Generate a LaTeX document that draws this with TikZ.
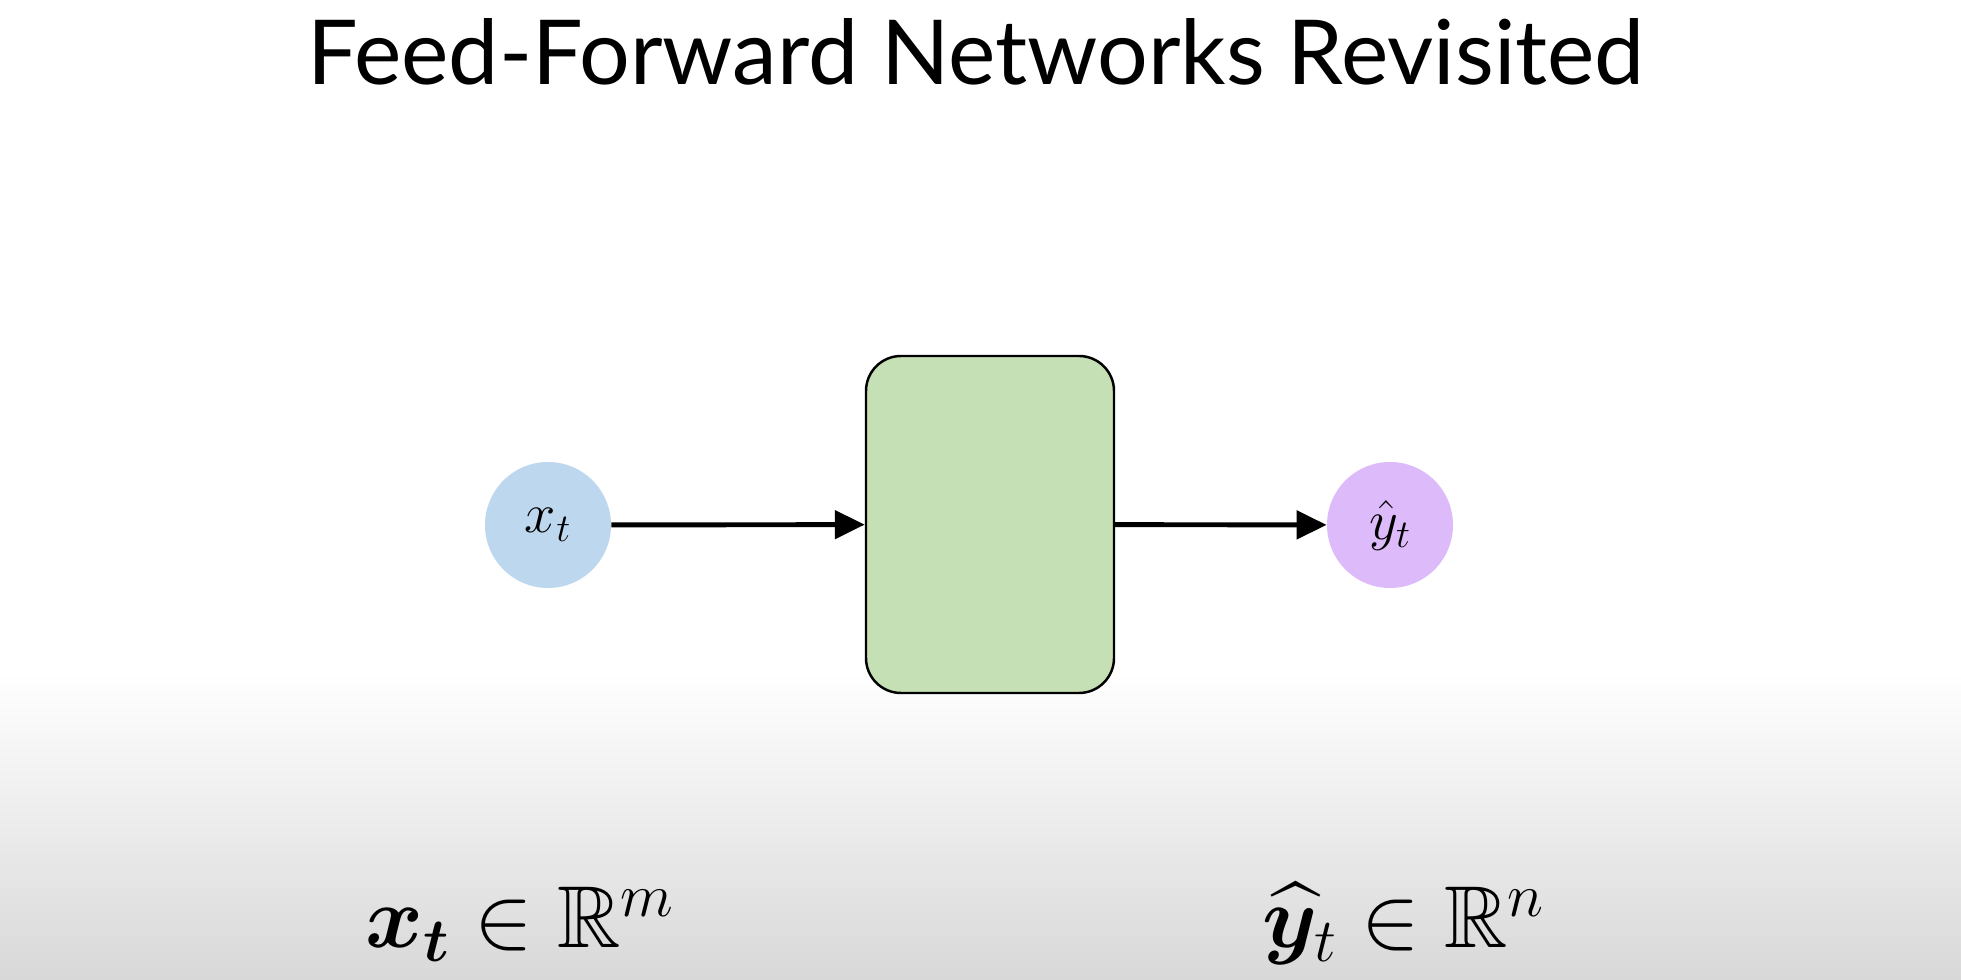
\documentclass[tikz,border=0pt]{standalone}
\usepackage{fix-cm}
\usepackage{amsmath, amssymb, bm}
\usepackage{fontspec}
\setsansfont{Lato}
\definecolor{InBlue}{RGB}{189,215,238}
\definecolor{NetGreen}{RGB}{197,224,180}
\definecolor{OutPurple}{RGB}{221,186,250}
\definecolor{BgGray}{RGB}{216,216,216}
\usetikzlibrary{arrows.meta, positioning}

\begin{document}
\begin{tikzpicture}[
	circulo/.style={circle, minimum size=2.52cm, inner sep=0pt, font=\fontsize{32}{34}\selectfont},
	caja/.style={rectangle, draw=black, line width=1.4pt, rounded corners=0.7cm, fill=NetGreen, minimum width=4.96cm, minimum height=6.74cm},
	flecha/.style={-{Triangle[length=0.6cm, width=0.56cm]}, line width=2.8pt},
	formula/.style={anchor=base west, inner sep=0pt, font=\fontsize{50}{54}\selectfont}]
	\useasboundingbox (0,0) rectangle (39.22,19.6);
	\fill[white] (0,0) rectangle (39.22,19.6);
	\shade[top color=white, bottom color=BgGray] (0,0) rectangle (39.22,6.14);
	\node[anchor=base, font=\sffamily\fontsize{51}{55}\selectfont] (titulo) at (19.52,17.9) {Feed-Forward Networks Revisited};
	\node[circulo, fill=InBlue] (x) at (10.96,9.1) {$x_t$};
	\node[caja] (f) at (19.8,9.11) {};
	\node[circulo, fill=OutPurple] (y) at (27.8,9.1) {$\hat{y}_t$};
	\draw[flecha] (x) -- (f);
	\draw[flecha] (f) -- (y);
	\node[formula] (xin) at (7.3,0.64) {$\bm{x}_{\bm{t}} \in \mathbb{R}^m$};
	\node[formula] (yout) at (25.24,0.64) {$\widehat{\bm{y}}_t \in \mathbb{R}^n$};
\end{tikzpicture}
\end{document}
